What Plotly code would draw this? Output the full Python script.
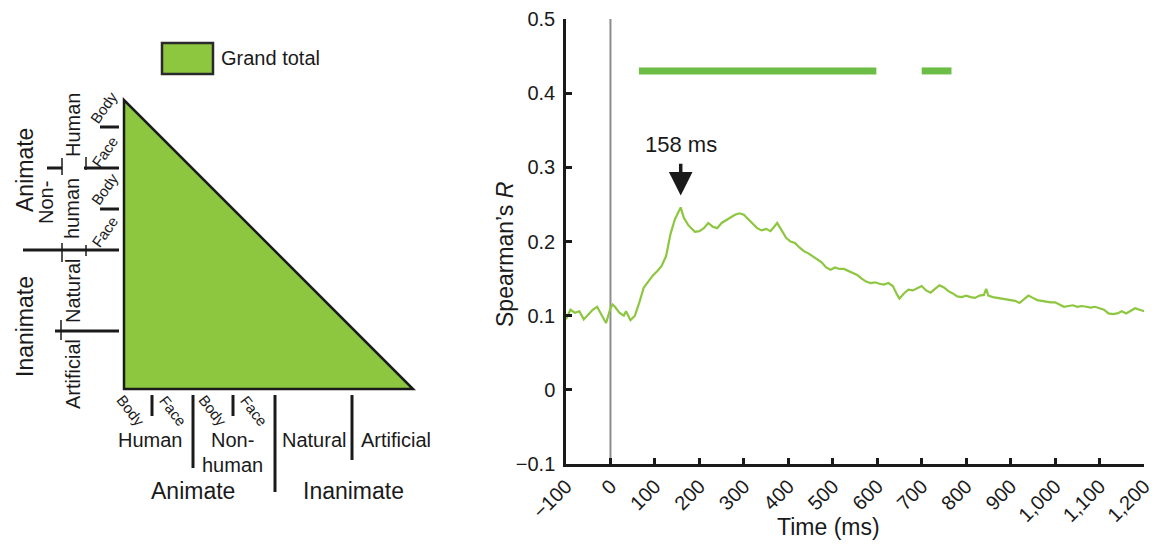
import plotly.graph_objects as go

# ---------------- data ----------------
time_ms = [-100, -90, -80, -70, -60, -50, -40, -30, -20, -10, 0, 5, 10, 20, 30, 35, 45, 55, 65, 75,
           85, 95, 105, 115, 125, 135, 145, 152, 158, 165, 175, 190, 200, 210, 220, 230, 240, 250, 260, 270,
           280, 290, 300, 310, 320, 330, 340, 350, 360, 370, 375, 385, 395, 405, 415, 425, 435, 445, 455, 465,
           475, 485, 495, 505, 515, 525, 535, 545, 555, 565, 575, 585, 595, 605, 615, 625, 635, 645, 650, 660,
           670, 680, 690, 700, 710, 720, 730, 740, 750, 760, 770, 780, 790, 800, 810, 820, 830, 840, 845, 850,
           860, 870, 880, 890, 900, 910, 920, 930, 940, 950, 960, 970, 980, 990, 1000, 1010, 1020, 1030, 1040, 1050,
           1060, 1070, 1080, 1090, 1100, 1110, 1120, 1130, 1140, 1150, 1160, 1170, 1180, 1190, 1200, 1210]
spearman_r = [0.095, 0.108, 0.104, 0.106, 0.095, 0.102, 0.108, 0.112, 0.100, 0.090, 0.110, 0.115, 0.112, 0.104, 0.100, 0.106, 0.094, 0.100, 0.118, 0.138,
              0.146, 0.154, 0.160, 0.167, 0.180, 0.210, 0.230, 0.238, 0.246, 0.232, 0.222, 0.213, 0.214, 0.218, 0.225, 0.220, 0.218, 0.225, 0.229, 0.233,
              0.236, 0.238, 0.236, 0.230, 0.224, 0.218, 0.215, 0.217, 0.214, 0.222, 0.225, 0.215, 0.205, 0.200, 0.198, 0.192, 0.187, 0.184, 0.180, 0.177,
              0.172, 0.165, 0.162, 0.165, 0.163, 0.163, 0.160, 0.157, 0.155, 0.150, 0.146, 0.144, 0.145, 0.143, 0.142, 0.144, 0.140, 0.128, 0.123, 0.130,
              0.135, 0.134, 0.137, 0.140, 0.134, 0.131, 0.136, 0.141, 0.138, 0.133, 0.130, 0.126, 0.125, 0.127, 0.125, 0.124, 0.127, 0.128, 0.136, 0.127,
              0.125, 0.124, 0.124, 0.122, 0.122, 0.120, 0.117, 0.122, 0.127, 0.124, 0.121, 0.120, 0.119, 0.118, 0.118, 0.115, 0.112, 0.113, 0.114, 0.112,
              0.113, 0.112, 0.111, 0.112, 0.110, 0.108, 0.103, 0.102, 0.103, 0.106, 0.103, 0.106, 0.110, 0.108, 0.106, 0.107]

sig_start = [64, 700]
sig_end = [598, 767]
sig_level = 0.43

peak_time = 158
peak_label = "158 ms"

x_ticks = [-100, 0, 100, 200, 300, 400, 500, 600, 700, 800, 900, 1000, 1100, 1200]
x_ticktext = ["\u2212100", "0", "100", "200", "300", "400", "500", "600", "700", "800", "900",
              "1,000", "1,100", "1,200"]
y_ticks = [-0.1, 0, 0.1, 0.2, 0.3, 0.4, 0.5]
y_ticktext = ["\u22120.1", "0", "0.1", "0.2", "0.3", "0.4", "0.5"]

legend_label = "Grand total"

# ---------------- layout constants ----------------
W, H = 1161, 552
FONT = "Liberation Sans, Arial, Helvetica, sans-serif"
GREEN = "#8dc63f"
SIG_GREEN = "#6cbd45"
INK = "#1a1a1a"


def px(x):
    return x / W


def py(y):
    return 1 - y / H


fig = go.Figure()

fig.add_trace(go.Scatter(x=time_ms, y=spearman_r, mode="lines",
                         line=dict(color=GREEN, width=2.2), showlegend=False, hoverinfo="skip"))
for s, e in zip(sig_start, sig_end):
    fig.add_trace(go.Scatter(x=[s, e], y=[sig_level, sig_level], mode="lines",
                             line=dict(color=SIG_GREEN, width=7), showlegend=False, hoverinfo="skip"))

shapes = []
annotations = []

shapes.append(dict(type="line", xref="x", yref="y", x0=0, x1=0, y0=-0.1, y1=0.5,
                   line=dict(color="#8c8c8c", width=2), layer="below"))

# peak arrow
annotations.append(dict(x=peak_time, y=0.262, xref="x", yref="y", ax=peak_time, ay=0.307,
                        axref="x", ayref="y", showarrow=True, arrowhead=2, arrowsize=1.35,
                        arrowwidth=3.5, arrowcolor=INK, text=""))
annotations.append(dict(x=peak_time, y=0.331, xref="x", yref="y", text=peak_label,
                        xanchor="center", yanchor="middle",
                        showarrow=False, font=dict(size=22, color=INK, family=FONT)))


def txt(x, y, t, size, angle=0, xanchor="center"):
    annotations.append(dict(x=px(x), y=py(y), xref="paper", yref="paper", text=t, textangle=angle,
                            xanchor=xanchor, yanchor="middle",
                            showarrow=False, font=dict(size=size, color=INK, family=FONT)))


def seg(x0, y0, x1, y1, w=3):
    shapes.append(dict(type="line", xref="paper", yref="paper", x0=px(x0), y0=py(y0), x1=px(x1), y1=py(y1),
                       line=dict(color=INK, width=w)))


# axis titles
txt(505, 255, "Spearman\u2019s <i>R</i>", 23, -90)
txt(828, 527, "Time (ms)", 23)

# ---------------- left schematic ----------------
tri = [(124, 100), (124, 389), (413, 389)]
path = "M {} {} L {} {} L {} {} Z".format(px(tri[0][0]), py(tri[0][1]), px(tri[1][0]), py(tri[1][1]),
                                         px(tri[2][0]), py(tri[2][1]))
shapes.append(dict(type="path", xref="paper", yref="paper", path=path, fillcolor=GREEN,
                   line=dict(color=INK, width=2.5)))

shapes.append(dict(type="rect", xref="paper", yref="paper", x0=px(162), x1=px(213), y0=py(74), y1=py(43),
                   fillcolor=GREEN, line=dict(color="#2a2a2a", width=2.5)))
txt(219, 58, legend_label, 20, 0, "left")

# left separators
seg(100, 127, 119, 127)
seg(47, 168, 62, 168)
seg(84, 168, 119, 168)
seg(100, 209, 119, 209)
seg(23, 250, 119, 250)
seg(55, 331, 119, 331)
seg(62, 158, 62, 175, 1.5)
seg(86, 157, 86, 170, 1.5)
seg(62, 243, 62, 262, 1.5)
seg(86, 245, 86, 256, 1.5)
seg(61, 320, 61, 340, 1.5)

# left texts
txt(25, 170, "Animate", 23, -90)
txt(25, 327, "Inanimate", 23, -90)
txt(73, 125, "Human", 20, -90)
txt(46, 203, "Non-", 20, -90)
txt(72, 209, "human", 20, -90)
txt(73, 291, "Natural", 20, -90)
txt(73, 374, "Artificial", 20, -90)
txt(104, 108, "Body", 15, -55)
txt(104, 152, "Face", 15, -55)
txt(104, 189, "Body", 15, -55)
txt(104, 232, "Face", 15, -55)

# bottom separators
seg(152, 395, 152, 416)
seg(193, 395, 193, 468)
seg(233, 395, 233, 416)
seg(275, 395, 275, 492)
seg(352, 395, 352, 460)

# bottom texts
txt(131, 410, "Body", 15, 52)
txt(173, 410, "Face", 15, 52)
txt(213, 410, "Body", 15, 52)
txt(254, 410, "Face", 15, 52)
txt(150, 440, "Human", 20)
txt(232, 440, "Non-", 20)
txt(232, 465, "human", 20)
txt(314, 440, "Natural", 20)
txt(396, 440, "Artificial", 20)
txt(193, 491, "Animate", 23)
txt(353, 491, "Inanimate", 23)

axis_common = dict(showline=True, linecolor=INK, linewidth=2.5, ticks="inside", ticklen=6,
                   tickwidth=2.5, tickcolor=INK, showgrid=False, zeroline=False, automargin=False,
                   tickfont=dict(size=20, color=INK, family=FONT))

fig.update_layout(
    width=W, height=H,
    margin=dict(l=0, r=0, t=0, b=0, autoexpand=False),
    paper_bgcolor="white", plot_bgcolor="white",
    shapes=shapes, annotations=annotations,
    xaxis=dict(domain=[px(566), px(1144)], range=[-100, 1200], tickvals=x_ticks, ticktext=x_ticktext,
               tickangle=-45, **axis_common),
    yaxis=dict(domain=[py(464), py(19)], range=[-0.1, 0.5], tickvals=y_ticks, ticktext=y_ticktext,
               ticklabelstandoff=4, **axis_common),
    font=dict(family=FONT),
)

fig.write_html("out.html", config={"displayModeBar": False},
               post_script="document.body.style.margin='0';document.body.style.overflow='hidden';")
